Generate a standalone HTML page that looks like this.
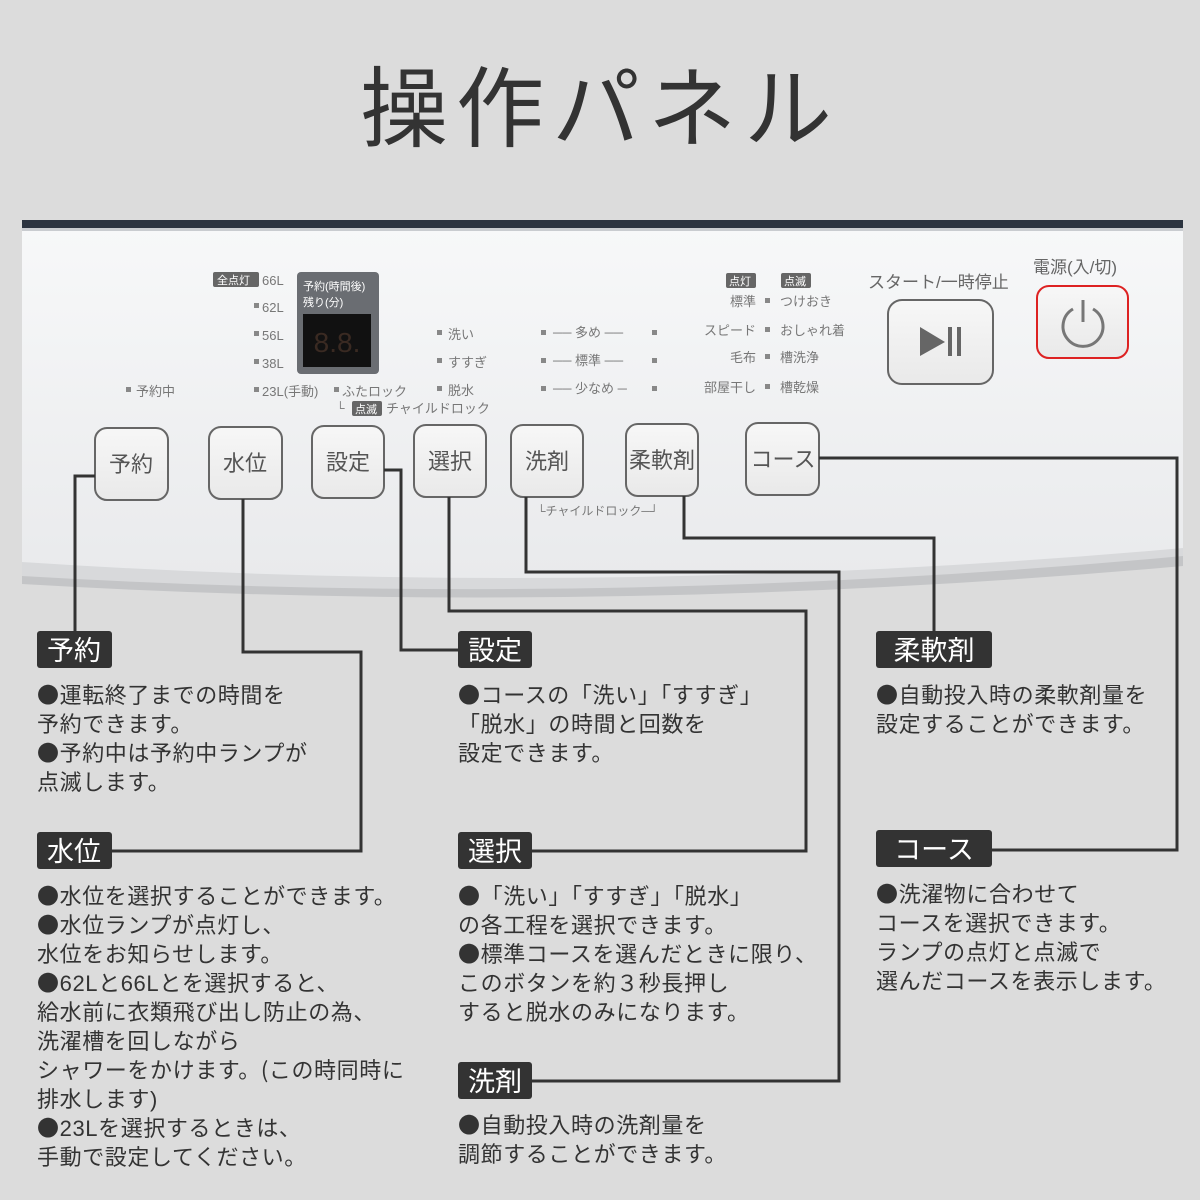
<!DOCTYPE html>
<html><head><meta charset="utf-8"><style>
html,body{margin:0;padding:0;background:#dcdcdc;}
svg{display:block;font-family:"Liberation Sans","Noto Sans CJK JP",sans-serif;}
.b{font-family:"Noto Sans CJK JP",sans-serif;}
</style></head><body>
<svg width="1200" height="1200" viewBox="0 0 1200 1200" xmlns="http://www.w3.org/2000/svg">
<defs>
<linearGradient id="btn" x1="0" y1="0" x2="0" y2="1"><stop offset="0" stop-color="#f7f7f7"/><stop offset="1" stop-color="#e9e9e9"/></linearGradient>
<linearGradient id="pan" x1="0" y1="0" x2="0" y2="1"><stop offset="0" stop-color="#f7f8f9"/><stop offset="1" stop-color="#e9eaec"/></linearGradient>
</defs>
<rect width="1200" height="1200" fill="#dcdcdc"/>
<text x="600" y="140" font-size="88" fill="#333" text-anchor="middle" letter-spacing="8">操作パネル</text>

<!-- panel -->
<path d="M22,222 L1183,222 L1183,566 Q600,618 22,584 Z" fill="#c4c5c7"/>
<path d="M22,222 L1183,222 L1183,556 Q600,610 22,576 Z" fill="#d8d9db"/>
<path d="M22,228 L1183,228 L1183,548 Q600,600 22,562 Z" fill="url(#pan)"/>
<rect x="22" y="220" width="1161" height="8" fill="#2c3440"/>
<rect x="22" y="228" width="1161" height="3" fill="#c9ccd0"/>

<!-- left indicators -->
<g font-size="13" fill="#777">
<rect x="213" y="272" width="46" height="15" rx="2" fill="#666"/>
<text x="217" y="284" fill="#fff" font-size="11">全点灯</text>
<text x="262" y="285">66L</text>
<text x="262" y="312">62L</text><rect x="254" y="303" width="5" height="5" fill="#888"/>
<text x="262" y="340">56L</text><rect x="254" y="331" width="5" height="5" fill="#888"/>
<text x="262" y="368">38L</text><rect x="254" y="359" width="5" height="5" fill="#888"/>
<text x="262" y="396">23L(手動)</text><rect x="254" y="387" width="5" height="5" fill="#888"/>
<rect x="334" y="387" width="5" height="5" fill="#888"/><text x="342" y="396">ふたロック</text>
<text x="336" y="412" font-size="12">└</text>
<rect x="352" y="401" width="30" height="15" rx="2" fill="#666"/><text x="355" y="413" fill="#fff" font-size="11">点滅</text>
<text x="386" y="413">チャイルドロック</text>
<rect x="126" y="387" width="5" height="5" fill="#888"/><text x="136" y="396">予約中</text>
<rect x="297" y="272" width="82" height="102" rx="4" fill="#6a6d72"/>
<text x="303" y="290" fill="#fff" font-size="11">予約(時間後)</text>
<text x="303" y="306" fill="#fff" font-size="11">残り(分)</text>
<rect x="303" y="314" width="68" height="53" fill="#111"/>
<text x="337" y="352" fill="#3a2a22" font-size="28" text-anchor="middle">8.8.</text>
<rect x="437" y="330" width="5" height="5" fill="#888"/><text x="448" y="339">洗い</text>
<rect x="437" y="358" width="5" height="5" fill="#888"/><text x="448" y="367">すすぎ</text>
<rect x="437" y="386" width="5" height="5" fill="#888"/><text x="448" y="395">脱水</text>
<g fill="#888">
<rect x="541" y="330" width="5" height="5"/><rect x="652" y="330" width="5" height="5"/>
<rect x="541" y="358" width="5" height="5"/><rect x="652" y="358" width="5" height="5"/>
<rect x="541" y="386" width="5" height="5"/><rect x="652" y="386" width="5" height="5"/>
</g>
<text x="553" y="337">── 多め ──</text>
<text x="553" y="365">── 標準 ──</text>
<text x="553" y="393">── 少なめ ─</text>
<rect x="726" y="273" width="30" height="15" rx="2" fill="#666"/><text x="729" y="285" fill="#fff" font-size="11">点灯</text>
<rect x="781" y="273" width="30" height="15" rx="2" fill="#666"/><text x="784" y="285" fill="#fff" font-size="11">点滅</text>
<text x="756" y="306" text-anchor="end">標準</text>
<text x="756" y="335" text-anchor="end">スピード</text>
<text x="756" y="362" text-anchor="end">毛布</text>
<text x="756" y="392" text-anchor="end">部屋干し</text>
<g fill="#888"><rect x="765" y="298" width="5" height="5"/><rect x="765" y="327" width="5" height="5"/><rect x="765" y="354" width="5" height="5"/><rect x="765" y="384" width="5" height="5"/></g>
<text x="780" y="306">つけおき</text>
<text x="780" y="335">おしゃれ着</text>
<text x="780" y="362">槽洗浄</text>
<text x="780" y="392">槽乾燥</text>
<text x="537" y="515" font-size="12">└チャイルドロック─┘</text>
</g>
<text x="868" y="288" font-size="17" fill="#666">スタート/一時停止</text>
<text x="1033" y="273" font-size="17" fill="#666">電源(入/切)</text>

<!-- buttons -->
<g stroke="#666" stroke-width="2" fill="url(#btn)">
<rect x="95" y="428" width="73" height="72" rx="12"/>
<rect x="209" y="427" width="73" height="72" rx="12"/>
<rect x="312" y="426" width="72" height="72" rx="12"/>
<rect x="414" y="425" width="72" height="72" rx="12"/>
<rect x="511" y="425" width="72" height="72" rx="12"/>
<rect x="626" y="424" width="72" height="72" rx="12"/>
<rect x="746" y="423" width="73" height="72" rx="12"/>
<rect x="888" y="300" width="105" height="84" rx="14"/>
</g>
<rect x="1037" y="286" width="91" height="72" rx="12" fill="url(#btn)" stroke="#d22" stroke-width="2"/>
<g font-size="22" fill="#555" text-anchor="middle">
<text x="131" y="472">予約</text>
<text x="245" y="471">水位</text>
<text x="348" y="470">設定</text>
<text x="450" y="469">選択</text>
<text x="547" y="469">洗剤</text>
<text x="662" y="468">柔軟剤</text>
<text x="783" y="467">コース</text>
</g>
<polygon points="920,327 920,356 945,342" fill="#666"/>
<rect x="948" y="327" width="4" height="29" fill="#666"/><rect x="957" y="327" width="4" height="29" fill="#666"/>
<path d="M1073,309 A20,20 0 1 0 1093,309" fill="none" stroke="#777" stroke-width="3"/>
<line x1="1083" y1="300" x2="1083" y2="322" stroke="#777" stroke-width="3"/>

<!-- connectors -->
<g fill="none" stroke="#333" stroke-width="3">
<polyline points="95,476 75,476 75,632"/>
<polyline points="243,499 243,652 361,652 361,851 112,851"/>
<polyline points="384,470 401,470 401,650 458,650"/>
<polyline points="449,497 449,611 806,611 806,851 532,851"/>
<polyline points="526,497 526,572 839,572 839,1081 532,1081"/>
<polyline points="684,496 684,538 934,538 934,632"/>
<polyline points="819,458 1177,458 1177,850 992,850"/>
</g>

<!-- labels -->
<g fill="#333">
<rect x="37" y="631" width="75" height="37" rx="3"/>
<rect x="37" y="832" width="75" height="37" rx="3"/>
<rect x="458" y="631" width="74" height="37" rx="3"/>
<rect x="458" y="832" width="74" height="37" rx="3"/>
<rect x="458" y="1062" width="74" height="37" rx="3"/>
<rect x="876" y="631" width="116" height="37" rx="3"/>
<rect x="876" y="830" width="116" height="37" rx="3"/>
</g>
<g font-size="27" fill="#fff" text-anchor="middle">
<text x="74" y="660">予約</text>
<text x="74" y="861">水位</text>
<text x="495" y="660">設定</text>
<text x="495" y="861">選択</text>
<text x="495" y="1091">洗剤</text>
<text x="934" y="660">柔軟剤</text>
<text x="934" y="859">コース</text>
</g>
<g font-size="22" fill="#333" letter-spacing="0.6">
<text x="37" y="703"><tspan class="b">●</tspan>運転終了までの時間を</text>
<text x="37" y="732">予約できます。</text>
<text x="37" y="761"><tspan class="b">●</tspan>予約中は予約中ランプが</text>
<text x="37" y="790">点滅します。</text>

<text x="37" y="904"><tspan class="b">●</tspan>水位を選択することができます。</text>
<text x="37" y="933"><tspan class="b">●</tspan>水位ランプが点灯し、</text>
<text x="37" y="962">水位をお知らせします。</text>
<text x="37" y="991"><tspan class="b">●</tspan>62Lと66Lとを選択すると、</text>
<text x="37" y="1020">給水前に衣類飛び出し防止の為、</text>
<text x="37" y="1049">洗濯槽を回しながら</text>
<text x="37" y="1078">シャワーをかけます。<tspan class="b">(</tspan>この時同時に</text>
<text x="37" y="1107">排水します)</text>
<text x="37" y="1136"><tspan class="b">●</tspan>23Lを選択するときは、</text>
<text x="37" y="1165">手動で設定してください。</text>

<text x="458" y="703"><tspan class="b">●</tspan>コースの「洗い」「すすぎ」</text>
<text x="458" y="732">「脱水」の時間と回数を</text>
<text x="458" y="761">設定できます。</text>

<text x="458" y="904"><tspan class="b">●</tspan>「洗い」「すすぎ」「脱水」</text>
<text x="458" y="933">の各工程を選択できます。</text>
<text x="458" y="962"><tspan class="b">●</tspan>標準コースを選んだときに限り、</text>
<text x="458" y="991">このボタンを約３秒長押し</text>
<text x="458" y="1020">すると脱水のみになります。</text>

<text x="458" y="1133"><tspan class="b">●</tspan>自動投入時の洗剤量を</text>
<text x="458" y="1162">調節することができます。</text>

<text x="876" y="703"><tspan class="b">●</tspan>自動投入時の柔軟剤量を</text>
<text x="876" y="732">設定することができます。</text>

<text x="876" y="902"><tspan class="b">●</tspan>洗濯物に合わせて</text>
<text x="876" y="931">コースを選択できます。</text>
<text x="876" y="960">ランプの点灯と点滅で</text>
<text x="876" y="989">選んだコースを表示します。</text>
</g>
</svg>
</body></html>
